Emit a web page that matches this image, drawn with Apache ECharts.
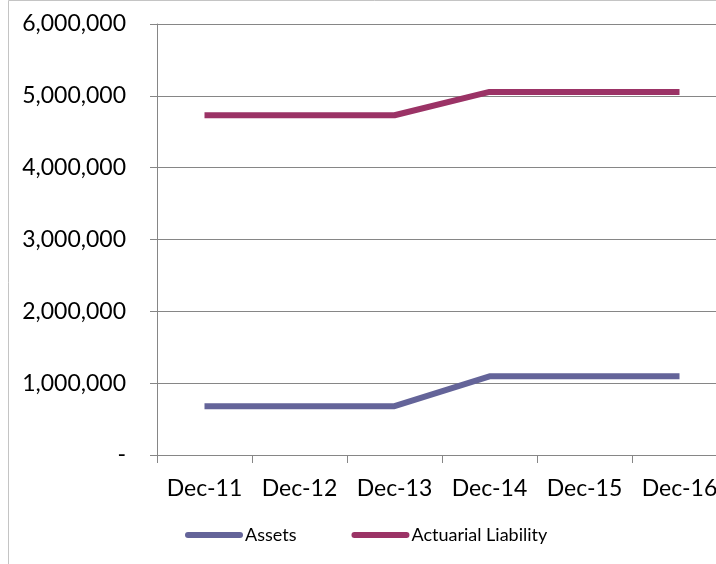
<!DOCTYPE html>
<html>
<head>
<meta charset="utf-8">
<script src="https://cdn.jsdelivr.net/npm/echarts@6/dist/echarts.min.js"></script>
<style>
  html, body { margin: 0; padding: 0; background: #fff; overflow: hidden; width: 716px; height: 564px; }
  #chart { position: absolute; left: 0; top: 0; width: 740px; height: 564px; }
</style>
</head>
<body>
<div id="chart"></div>
<script>
// Year-end valuation dates
const categories = ['Dec-11', 'Dec-12', 'Dec-13', 'Dec-14', 'Dec-15', 'Dec-16'];
// Plan assets and actuarial liability at each date
const assets = [680000, 680000, 680000, 1095000, 1095000, 1095000];
const liability = [4730000, 4730000, 4730000, 5055000, 5055000, 5055000];
const seriesNames = ['Assets', 'Actuarial Liability'];

const axisGrey = '#868686';
const font = 'Lato, "Open Sans", sans-serif';

const chart = echarts.init(document.getElementById('chart'), null, { renderer: 'canvas' });
chart.setOption({
  animation: false,
  backgroundColor: '#fff',
  graphic: [{
    type: 'rect',
    shape: { x: 8.5, y: 0.5, width: 900, height: 900 },
    style: { fill: 'none', stroke: '#c4c4c4', lineWidth: 1 },
    silent: true
  }],
  grid: { left: 157, top: 24, right: 13, bottom: 109, containLabel: false },
  legend: {
    left: 180,
    top: 521,
    itemWidth: 58,
    itemHeight: 6,
    itemGap: 55,
    icon: 'path://M3,0 L55,0 A3,3 0 0 1 55,6 L3,6 A3,3 0 0 1 3,0 Z',
    textStyle: { fontFamily: font, fontSize: 18, color: '#000', padding: [0, 0, 0, -3] },
    data: seriesNames
  },
  xAxis: {
    type: 'category',
    data: categories,
    boundaryGap: true,
    axisLine: { lineStyle: { color: axisGrey, width: 1 } },
    axisTick: { show: true, length: 8, lineStyle: { color: axisGrey } },
    axisLabel: { fontFamily: font, fontSize: 23, color: '#000', margin: 22, interval: 0 },
    splitLine: { show: false }
  },
  yAxis: {
    type: 'value',
    min: 0,
    max: 6000000,
    interval: 1000000,
    axisLine: { show: true, lineStyle: { color: axisGrey, width: 1 } },
    axisTick: { show: true, length: 7, lineStyle: { color: axisGrey } },
    axisLabel: {
      fontFamily: font, fontSize: 23, color: '#000', margin: 31,
      formatter: v => v === 0 ? '-' : v.toLocaleString('en-US')
    },
    splitLine: { show: true, lineStyle: { color: axisGrey, width: 1 } }
  },
  series: [
    {
      name: seriesNames[0], type: 'line', data: assets, symbol: 'none',
      color: '#646499',
      lineStyle: { width: 6, color: '#646499' }
    },
    {
      name: seriesNames[1], type: 'line', data: liability, symbol: 'none',
      color: '#9b3366',
      lineStyle: { width: 6, color: '#9b3366' }
    }
  ]
});
</script>
</body>
</html>
